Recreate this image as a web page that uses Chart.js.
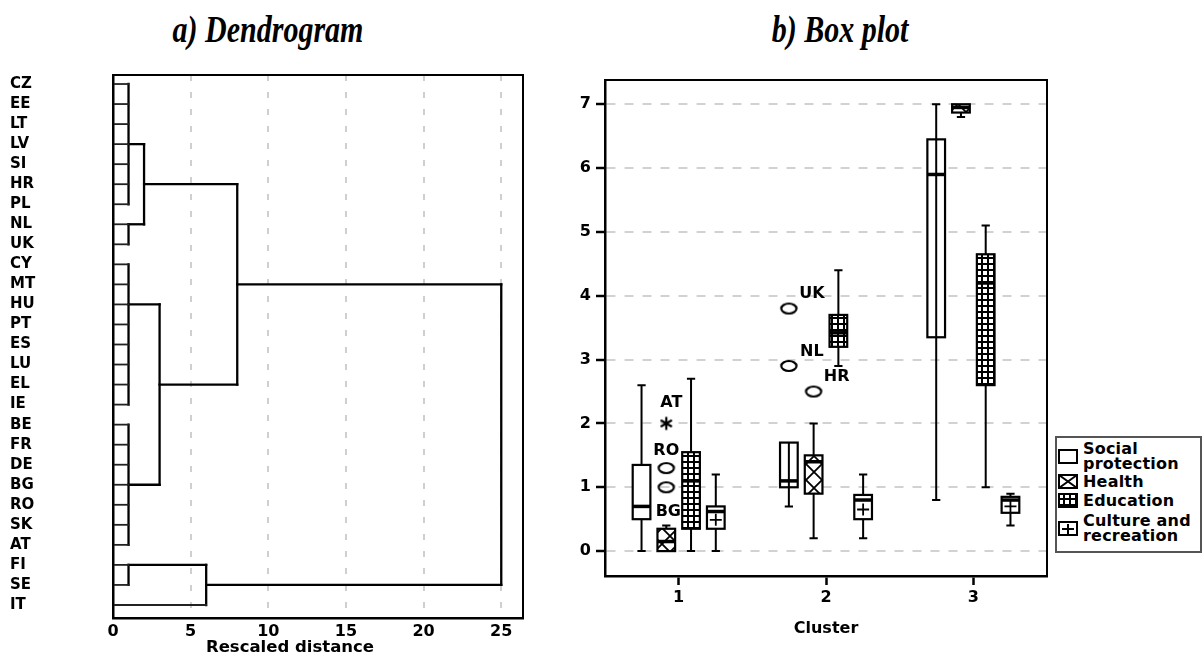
<!DOCTYPE html>
<html>
<head>
<meta charset="utf-8">
<script src="https://cdn.jsdelivr.net/npm/chart.js@4.4.1/dist/chart.umd.min.js"></script>
<style>
  html, body { margin: 0; padding: 0; background: #fff; }
  body { width: 1202px; height: 655px; position: relative; overflow: hidden; font-family: 'DejaVu Sans', sans-serif; }
  #dendro { position: absolute; left: 0; top: 0; }
  #boxes { position: absolute; left: 550px; top: 0; }
  .ptitle { position: absolute; top: 11px; font-family: 'Liberation Serif', serif; font-weight: bold; font-style: italic;
            font-size: 30px; line-height: 30px; white-space: nowrap; transform-origin: 50% 0; color: #000; }
  #xtitle1 { position: absolute; left: 290px; top: 638px; transform: translateX(-50%); font-weight: bold; font-size: 16.5px; line-height: 18px; white-space: nowrap; color: #000; }
  #legend { position: absolute; left: 1055px; top: 436px; width: 143px; height: 113px; border: 2px solid #555; background: #fff; }
  #legend .sw { position: absolute; left: 1px; }
  #legend .tx { position: absolute; left: 26px; font-weight: bold; font-size: 16px; line-height: 15px; white-space: nowrap; color: #000; letter-spacing: 0.2px; }
</style>
</head>
<body>
<div class="ptitle" id="t1" style="left:268px; transform: translateX(-50%) scaleY(1.25);">a) Dendrogram</div>
<div class="ptitle" id="t2" style="left:840px; transform: translateX(-50%) scaleY(1.25);">b) Box plot</div>
<canvas id="dendro" width="550" height="655"></canvas>
<canvas id="boxes" width="652" height="655"></canvas>
<div id="xtitle1">Rescaled distance</div>
<div id="legend"></div>
<script>
// ---------------- DATA: dendrogram ----------------
const leafNames = ['CZ','EE','LT','LV','SI','HR','PL','NL','UK','CY','MT','HU','PT','ES','LU','EL','IE','BE','FR','DE','BG','RO','SK','AT','FI','SE','IT'];
const leafJoinDistance = [1,1,1,1,1,1,1,1,1,1,1,1,1,1,1,1,1,1,1,1,1,1,1,1,1,1,6];
const mergeDistance = [1, 1, 2, 1, 1, 3, 8, 1, 6, 25];
const mergeTop      = [0, 7, 3, 9, 17, 11, 5, 24, 24, 10];
const mergeBottom   = [6, 8, 7, 16, 23, 20, 15, 25, 26, 25];
const mergeAnchor   = [3, 7, 5, 11, 20, 15, 10, 24, 25, null];
const mergeParent   = [2, 2, 6, 5, 5, 6, 9, 8, 9, null];
const distanceTicks = [0, 5, 10, 15, 20, 25];

// ---------------- DATA: box plot ----------------
const clusters = [1, 2, 3];
const valueTicks = [0, 1, 2, 3, 4, 5, 6, 7];
const seriesNames = ['Social protection', 'Health', 'Education', 'Culture and recreation'];
// [min, q1, median, q3, max] for clusters 1, 2, 3
const socialStats    = [[0, 0.5, 0.7, 1.35, 2.6], [0.7, 1.0, 1.1, 1.7, 1.7], [0.8, 3.35, 5.9, 6.45, 7.0]];
const healthStats    = [[0, 0, 0.15, 0.35, 0.4], [0.2, 0.9, 1.4, 1.5, 2.0], [6.8, 6.87, 6.95, 7.0, 7.0]];
const educationStats = [[0, 0.35, 1.1, 1.55, 2.7], [2.9, 3.2, 3.42, 3.7, 4.4], [1.0, 2.6, 4.2, 4.65, 5.1]];
const cultureStats   = [[0, 0.35, 0.62, 0.7, 1.2], [0.2, 0.5, 0.8, 0.88, 1.2], [0.4, 0.6, 0.8, 0.85, 0.9]];
const outlierNames   = ['AT', 'RO', 'BG', 'UK', 'NL', 'HR'];
const outlierCluster = [1, 1, 1, 2, 2, 2];
const outlierSeries  = [1, 1, 1, 0, 0, 1];
const outlierValues  = [2.0, 1.3, 1.0, 3.8, 2.9, 2.5];
const outlierExtreme = [true, false, false, false, false, false];

// ---------------- styling / layout helpers ----------------
const FONT = 'DejaVu Sans';
const seriesStats = [socialStats, healthStats, educationStats, cultureStats];
const seriesOffset = [-0.252, -0.084, 0.084, 0.252];
const boxHalfWidth = 0.06;
const capHalfWidth = 0.028;
const outlierLabelOffset = [[5, -21], [0, -17], [2, 25], [23, -15], [23, -14], [23, -15]];
const socialStemThrough = [false, true, true];

function makeTile(w, h, draw) {
  const c = document.createElement('canvas'); c.width = w; c.height = h;
  draw(c.getContext('2d'), w, h); return c;
}
const healthTile = makeTile(16, 16, (g, w, h) => {
  g.fillStyle = '#fff'; g.fillRect(0, 0, w, h);
  g.strokeStyle = '#000'; g.lineWidth = 1.8;
  g.beginPath(); g.moveTo(0, 0); g.lineTo(w, h); g.moveTo(w, 0); g.lineTo(0, h); g.stroke();
});
const eduTile = makeTile(6, 6, (g, w, h) => {
  g.fillStyle = '#000'; g.fillRect(0, 0, w, h);
  g.fillStyle = '#fff'; g.fillRect(1, 1, 4, 4);
});
function fillFor(ctx, s) {
  if (s === 1) return ctx.createPattern(healthTile, 'repeat');
  if (s === 2) return ctx.createPattern(eduTile, 'repeat');
  return '#fff';
}

// point style images
const ellipseImg = makeTile(20, 14, (g) => {
  g.strokeStyle = '#000'; g.lineWidth = 2.2;
  g.beginPath(); g.ellipse(10, 7, 7.6, 5, 0, 0, Math.PI * 2); g.stroke();
});
const starImg = makeTile(16, 16, (g) => {
  g.strokeStyle = '#000'; g.lineWidth = 2.2; g.lineCap = 'butt';
  g.beginPath();
  for (const a of [90, 30, 150]) {
    const r = a * Math.PI / 180, dx = Math.cos(r) * 6.5, dy = Math.sin(r) * 6.5;
    g.moveTo(8 - dx, 8 - dy); g.lineTo(8 + dx, 8 + dy);
  }
  g.stroke();
});

const framePlugin = {
  id: 'frame',
  afterDraw(chart) {
    const { ctx, chartArea: a } = chart;
    ctx.save(); ctx.strokeStyle = '#000'; ctx.lineWidth = 2;
    ctx.strokeRect(a.left, a.top, a.right - a.left, a.bottom - a.top);
    ctx.restore();
  }
};

// ---------------- Chart 1: dendrogram ----------------
const segs = [];
leafNames.forEach((n, i) => segs.push({ pts: [{ x: 0, y: i }, { x: leafJoinDistance[i], y: i }], leaf: true }));
mergeDistance.forEach((d, m) => {
  segs.push({ pts: [{ x: d, y: mergeTop[m] }, { x: d, y: mergeBottom[m] }], leaf: false });
  if (mergeParent[m] !== null) {
    segs.push({ pts: [{ x: d, y: mergeAnchor[m] }, { x: mergeDistance[mergeParent[m]], y: mergeAnchor[m] }], leaf: false });
  }
});

new Chart(document.getElementById('dendro'), {
  type: 'scatter',
  data: {
    datasets: segs.map(s => ({
      data: s.pts, showLine: true, borderColor: s.leaf ? '#222' : '#000', borderWidth: s.leaf ? 1.8 : 2.3,
      pointRadius: 0, fill: false, tension: 0, borderCapStyle: 'square'
    }))
  },
  options: {
    responsive: false, animation: false, devicePixelRatio: 1,
    layout: { padding: { left: 10, top: 75, right: 27, bottom: 0 } },
    plugins: { legend: { display: false }, tooltip: { enabled: false } },
    scales: {
      x: {
        type: 'linear', min: 0, max: 26.4,
        afterBuildTicks: s => { s.ticks = distanceTicks.map(v => ({ value: v })); },
        afterFit: s => { s.height = 37; },
        grid: { color: c => (c.tick && c.tick.value === 0) ? 'rgba(0,0,0,0)' : '#cfcfcf', lineWidth: 2, drawTicks: false },
        border: { display: true, color: '#000', width: 2.5, dash: [6, 11] },
        ticks: { font: { family: FONT, weight: 'bold', size: 16 }, color: '#000', padding: 4, maxRotation: 0, autoSkip: false },
        title: { display: false }
      },
      y: {
        type: 'linear', reverse: true, min: -0.45, max: 26.65,
        afterBuildTicks: s => { s.ticks = leafNames.map((n, i) => ({ value: i })); },
        afterFit: s => { s.width = 103; },
        grid: { display: false },
        border: { display: true, color: '#000', width: 2.5 },
        ticks: { callback: v => leafNames[v], crossAlign: 'far', autoSkip: false, color: '#000',
                 font: { family: FONT, weight: 'bold', size: 15 }, padding: 0 }
      }
    }
  },
  plugins: [framePlugin]
});

// ---------------- Chart 2: box plot ----------------
const boxPlugin = {
  id: 'boxdraw',
  beforeDatasetsDraw(chart) {
    const { ctx, scales: { x: xs, y: ys } } = chart;
    const px = v => xs.getPixelForValue(v);
    const py = v => ys.getPixelForValue(v);
    const half = px(1 + boxHalfWidth) - px(1);
    const cap = px(1 + capHalfWidth) - px(1);
    ctx.save();
    ctx.strokeStyle = '#000';
    seriesStats.forEach((stats, s) => {
      stats.forEach((st, c) => {
        const [mn, q1, md, q3, mx] = st;
        const xc = px(clusters[c] + seriesOffset[s]);
        ctx.lineWidth = 2; ctx.lineCap = 'butt';
        ctx.beginPath();
        ctx.moveTo(xc, py(mx)); ctx.lineTo(xc, py(q3));
        ctx.moveTo(xc, py(q1)); ctx.lineTo(xc, py(mn));
        if (mx > q3) { ctx.moveTo(xc - cap, py(mx)); ctx.lineTo(xc + cap, py(mx)); }
        if (mn < q1) { ctx.moveTo(xc - cap, py(mn)); ctx.lineTo(xc + cap, py(mn)); }
        ctx.stroke();
        const top = py(q3), bot = py(q1);
        ctx.fillStyle = fillFor(ctx, s);
        ctx.fillRect(xc - half, top, 2 * half, bot - top);
        if (s === 0 && socialStemThrough[c]) {
          ctx.beginPath(); ctx.moveTo(xc, top); ctx.lineTo(xc, bot); ctx.stroke();
        }
        if (s === 3) {
          const ym = py(q1 + (q3 - q1) * 0.4);
          ctx.lineWidth = 1.8; ctx.beginPath();
          ctx.moveTo(xc - 6, ym); ctx.lineTo(xc + 6, ym);
          ctx.moveTo(xc, Math.max(top, ym - 6)); ctx.lineTo(xc, Math.min(bot, ym + 6));
          ctx.stroke();
        }
        ctx.lineWidth = 2.2;
        ctx.strokeRect(xc - half, top, 2 * half, bot - top);
        ctx.lineWidth = 3.5;
        ctx.beginPath(); ctx.moveTo(xc - half, py(md)); ctx.lineTo(xc + half, py(md)); ctx.stroke();
      });
    });
    ctx.restore();
  },
  afterDatasetsDraw(chart) {
    const { ctx, scales: { x: xs, y: ys } } = chart;
    ctx.save();
    ctx.fillStyle = '#000'; ctx.font = 'bold 16px ' + FONT; ctx.textAlign = 'center'; ctx.textBaseline = 'middle';
    outlierNames.forEach((n, i) => {
      const x = xs.getPixelForValue(outlierCluster[i] + seriesOffset[outlierSeries[i]]);
      const y = ys.getPixelForValue(outlierValues[i]);
      ctx.fillText(n, x + outlierLabelOffset[i][0], y + outlierLabelOffset[i][1]);
    });
    ctx.restore();
  }
};

const mild = [], extreme = [];
outlierNames.forEach((n, i) => {
  const p = { x: outlierCluster[i] + seriesOffset[outlierSeries[i]], y: outlierValues[i] };
  (outlierExtreme[i] ? extreme : mild).push(p);
});

new Chart(document.getElementById('boxes'), {
  type: 'scatter',
  data: {
    datasets: [
      { data: mild, pointStyle: ellipseImg, pointRadius: 6, showLine: false },
      { data: extreme, pointStyle: starImg, pointRadius: 6, showLine: false }
    ]
  },
  options: {
    responsive: false, animation: false, devicePixelRatio: 1,
    layout: { padding: { left: 0, top: 80, right: 155, bottom: 0 } },
    plugins: { legend: { display: false }, tooltip: { enabled: false } },
    scales: {
      x: {
        type: 'linear', min: 0.5, max: 3.5,
        afterBuildTicks: s => { s.ticks = clusters.map(v => ({ value: v })); },
        afterFit: s => { s.height = 79; },
        grid: { display: true, drawOnChartArea: false, drawTicks: true, tickLength: 9, tickWidth: 2.5, tickColor: '#000', color: '#000' },
        border: { display: true, color: '#000', width: 2.5 },
        ticks: { callback: v => String(v), font: { family: FONT, weight: 'bold', size: 16 }, color: '#000', padding: 3, maxRotation: 0 },
        title: { display: true, text: 'Cluster', color: '#000', font: { family: FONT, weight: 'bold', size: 16 }, padding: { top: 0, bottom: 17 } }
      },
      y: {
        type: 'linear', min: -0.39, max: 7.38,
        afterBuildTicks: s => { s.ticks = valueTicks.map(v => ({ value: v })); },
        afterFit: s => { s.width = 55; },
        grid: { color: '#d2d2d2', lineWidth: 2, drawTicks: true, tickLength: 9, tickWidth: 2.5, tickColor: '#000' },
        border: { display: true, color: '#000', width: 2.5, dash: [9, 9] },
        ticks: { callback: v => String(v), font: { family: FONT, weight: 'bold', size: 16 }, color: '#000', padding: 5 }
      }
    }
  },
  plugins: [boxPlugin, framePlugin]
});

// ---------------- Legend (HTML text + drawn swatches) ----------------
const legend = document.getElementById('legend');
const legendLines = [['Social', 'protection'], ['Health'], ['Education'], ['Culture and', 'recreation']];
const legendTop = [3, 36, 55, 75];
legendLines.forEach((lines, s) => {
  const tx = document.createElement('div');
  tx.className = 'tx'; tx.style.top = legendTop[s] + 'px';
  tx.innerHTML = lines.join('<br>');
  legend.appendChild(tx);
  const sw = document.createElement('canvas');
  sw.className = 'sw'; sw.width = 20; sw.height = 15;
  sw.style.top = (legendTop[s] + lines.length * 7.5 - 7.5) + 'px';
  const g = sw.getContext('2d');
  g.fillStyle = fillFor(g, s); g.fillRect(1, 1, 18, 13);
  g.strokeStyle = '#000'; g.lineWidth = 2;
  if (s === 1) { g.fillStyle = '#fff'; g.fillRect(1, 1, 18, 13); g.beginPath(); g.moveTo(1, 1); g.lineTo(19, 14); g.moveTo(19, 1); g.lineTo(1, 14); g.stroke(); }
  if (s === 3) { g.beginPath(); g.moveTo(4, 8); g.lineTo(16, 8); g.moveTo(10, 3); g.lineTo(10, 13); g.stroke(); }
  g.strokeRect(1, 1, 18, 13);
  legend.appendChild(sw);
});
</script>
</body>
</html>
